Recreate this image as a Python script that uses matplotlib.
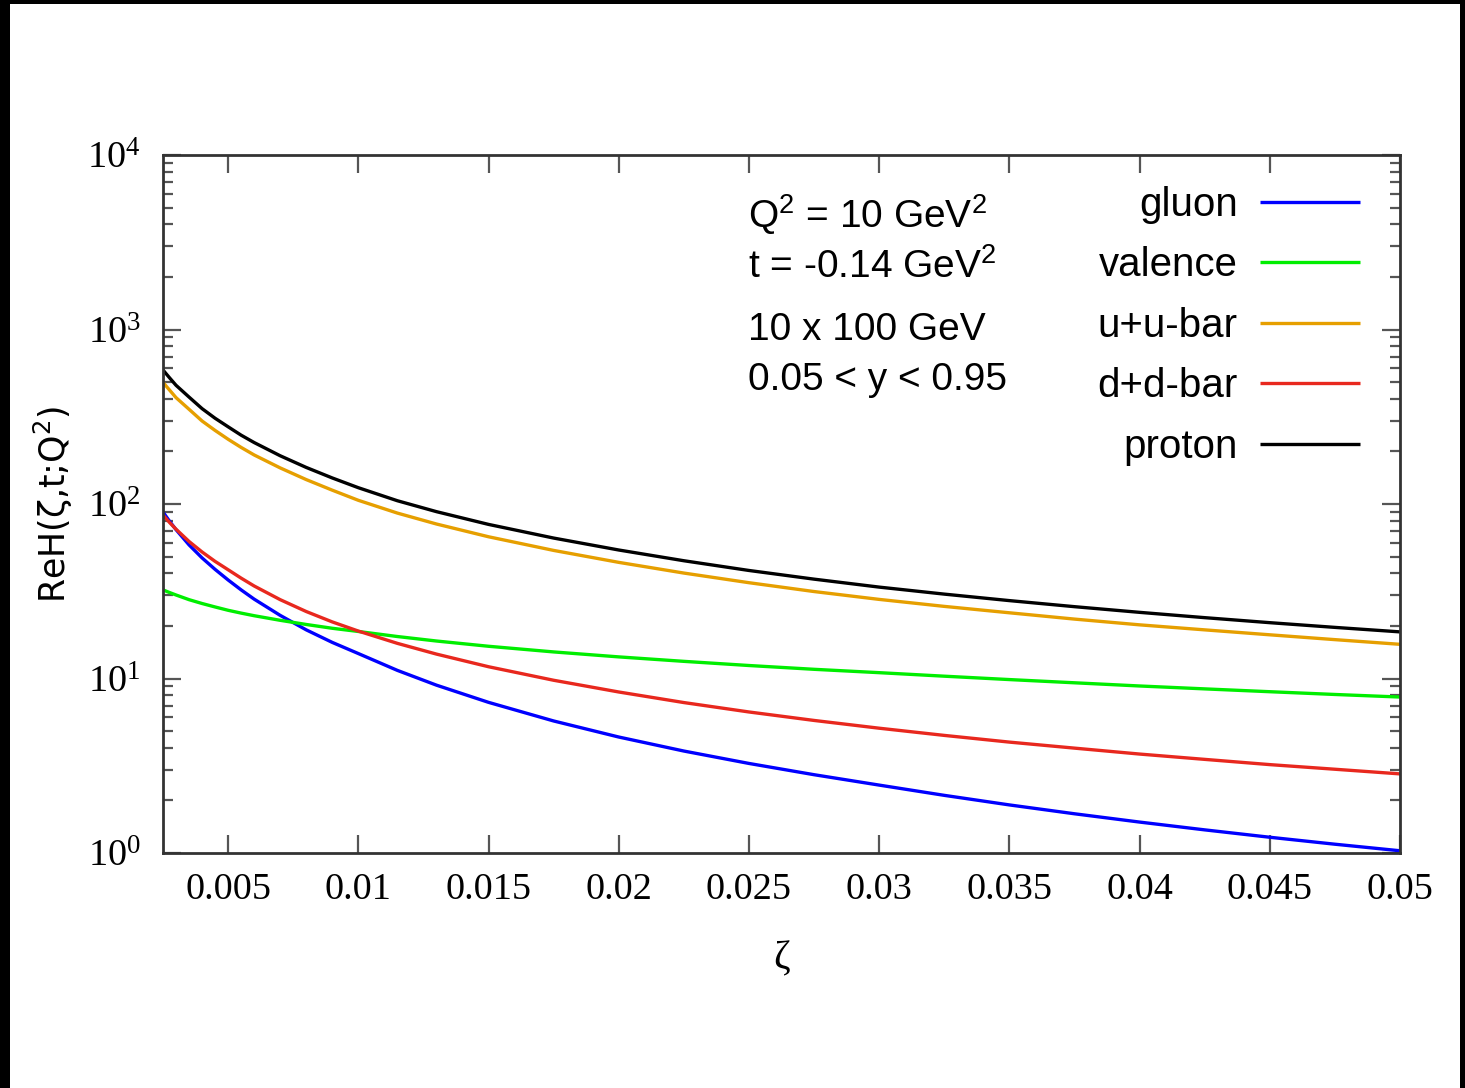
import matplotlib
matplotlib.use("Agg")
import matplotlib.pyplot as plt
from matplotlib.patches import Rectangle
from matplotlib.ticker import LogLocator, NullFormatter, MultipleLocator, FormatStrFormatter

plt.rcParams['font.family'] = ['Liberation Serif', 'DejaVu Serif']
plt.rcParams['mathtext.default'] = 'regular'

# ReH(zeta, t; Q^2) per flavour, Q^2 = 10 GeV^2, t = -0.14 GeV^2
zeta = [0.0025, 0.00275, 0.003, 0.0035, 0.004, 0.0045, 0.005, 0.0055, 0.006, 0.007,
        0.008, 0.009, 0.01, 0.0115, 0.013, 0.015, 0.0175, 0.02, 0.0225, 0.025,
        0.0275, 0.03, 0.0325, 0.035, 0.0375, 0.04, 0.0425, 0.045, 0.0475, 0.05]
gluon = [90, 79.7, 71.3, 58.3, 49.1, 42.2, 36.7, 32.2, 28.5, 23.0,
         19.0, 16.1, 13.9, 11.13, 9.16, 7.30, 5.71, 4.62, 3.84, 3.26,
         2.81, 2.45, 2.14, 1.886, 1.678, 1.504, 1.357, 1.231, 1.123, 1.03]
valence = [32.2, 31.1, 30.1, 28.3, 26.9, 25.7, 24.6, 23.7, 22.9, 21.55,
           20.4, 19.4, 18.6, 17.4, 16.4, 15.3, 14.2, 13.3, 12.54, 11.87,
           11.29, 10.8, 10.31, 9.86, 9.45, 9.06, 8.72, 8.40, 8.10, 7.83]
uubar = [498, 450, 407, 349, 299, 264, 235, 211, 191, 161,
         138, 120, 105, 88.7, 76.8, 64.9, 54.2, 46.3, 40.2, 35.4,
         31.5, 28.4, 25.9, 23.8, 21.9, 20.3, 19.0, 17.8, 16.7, 15.7]
ddbar = [86.5, 78.4, 71.7, 61.0, 53.1, 46.9, 42.0, 37.6, 33.9, 28.3,
         24.2, 21.1, 18.7, 15.9, 13.8, 11.68, 9.77, 8.37, 7.28, 6.43,
         5.75, 5.19, 4.72, 4.32, 3.99, 3.69, 3.44, 3.21, 3.02, 2.84]
proton = [586, 529, 479, 410, 352, 310, 277, 248, 225, 189,
          162, 141, 124, 104.4, 90.4, 76.4, 63.8, 54.5, 47.3, 41.6,
          37.1, 33.4, 30.45, 27.95, 25.8, 23.94, 22.32, 20.89, 19.63, 18.5]

series = [("gluon", gluon, "#0000ff"),
          ("valence", valence, "#00ee00"),
          ("u+u-bar", uubar, "#e69f00"),
          ("d+d-bar", ddbar, "#e8281e"),
          ("proton", proton, "#000000")]

info_lines = [r"Q$^2$ = 10 GeV$^2$", r"t = -0.14 GeV$^2$", "10 x 100 GeV", "0.05 < y < 0.95"]
info_y = [228, 278, 340, 390]

W, H = 1465, 1088
fig = plt.figure(figsize=(W / 100, H / 100), dpi=100)
fig.patch.set_facecolor("black")
fig.patches.append(Rectangle((10 / W, 0), 1450 / W, 1 - 4 / H, transform=fig.transFigure,
                             facecolor="white", edgecolor="none", zorder=-10))

ax = fig.add_axes([163 / W, 1 - 853 / H, 1237 / W, 698 / H])
for name, vals, col in series:
    ax.plot(zeta, vals, color=col, lw=2.4, label=name, solid_capstyle="butt")

ax.set_yscale("log")
ax.set_xlim(0.0025, 0.05)
ax.set_ylim(1, 1e4)
ax.xaxis.set_major_locator(MultipleLocator(0.005))
ax.xaxis.set_major_formatter(FormatStrFormatter("%g"))
ax.yaxis.set_major_locator(LogLocator(base=10, numticks=10))
ax.yaxis.set_minor_locator(LogLocator(base=10, subs=range(2, 10), numticks=10))
ax.yaxis.set_minor_formatter(NullFormatter())

for s in ax.spines.values():
    s.set_linewidth(2.0)
    s.set_color("#333333")
ax.tick_params(which="major", direction="in", length=13, width=1.6, color="#555555",
               top=True, right=True, labelsize=27.5, pad=14)
ax.tick_params(which="minor", direction="in", length=7, width=1.6, color="#555555",
               top=True, right=True)
ax.tick_params(axis="y", pad=16)

ax.set_xlabel("ζ", fontsize=29, labelpad=24)
ax.set_ylabel("ReH(ζ,t;Q$^2$)", fontsize=25, family=["DejaVu Sans"], labelpad=9)

# run parameters
for txt, yp in zip(info_lines, info_y):
    ax.text((748 - 163) / 1237, (853 - yp) / 698, txt, transform=ax.transAxes,
            fontsize=28, family=["Liberation Sans", "DejaVu Sans"], va="baseline", ha="left")

leg = ax.legend(loc="upper right", bbox_to_anchor=(0.968, 0.956), frameon=False,
                markerfirst=False, borderpad=0, borderaxespad=0,
                handlelength=2.5, handletextpad=0.55, labelspacing=0.56,
                prop={"family": ["Liberation Sans", "DejaVu Sans"], "size": 29})
for ln in leg.get_lines():
    ln.set_linewidth(2.4)

fig.savefig("out.png", dpi=100, facecolor=fig.get_facecolor())
